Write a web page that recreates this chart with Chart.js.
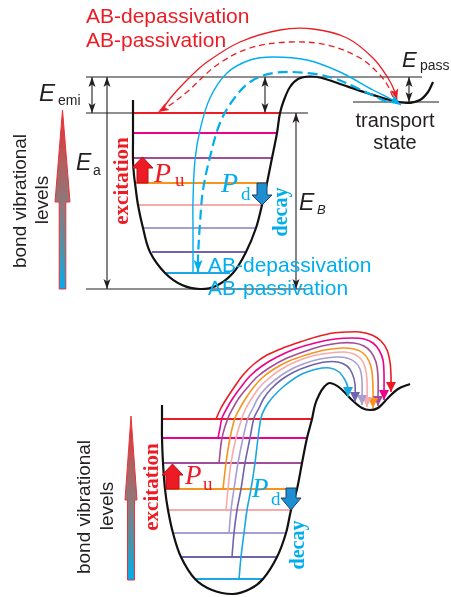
<!DOCTYPE html>
<html><head><meta charset="utf-8">
<script src="https://cdn.jsdelivr.net/npm/chart.js@4.4.1/dist/chart.umd.min.js"></script>
<style>html,body{margin:0;padding:0;background:#fff}#wrap{width:451px;height:597px}</style>
</head><body><div id="wrap"><canvas id="c" width="451" height="597"></canvas></div>
<script>
// ================= DATA (diagram coordinates) =================
const levelColors = ['#ed1c24','#ec008c','#a24d99','#f7941d','#f7abab','#a79fd2','#6e64ae','#1ba7e1'];
// upper diagram: vibrational levels
const topLevelY     = [113,133,158,183,205,228,252,273];
const topLevelLeft  = [133,133,133,135,138,143,152,165];
const topLevelRight = [280,277,272,267,261,256,247,230];
// lower diagram: vibrational levels
const botLevelY     = [419,438,463,489,510,533,557,579];
const botLevelLeft  = [162,162,163,165,168,173,182,195];
const botLevelRight = [312,307,302,297,291,286,277,263];
// potential curves
const topWellX = [133,133,133,134,135,138,143,150,165,182,200,216,233,246,256,262,267,272,277,280,284,290,298,310,322,340,367,390,407,420,428,433];
const topWellY = [100,140,160,175,183,205,228,252,273,285,289,286,273,252,228,205,183,158,133,113,100,87,79,76.5,78,84,93,100,103,100,92,82];
const botWellX = [162,162,162,163,165,168,173,181,195,212,233,250,263,277,286,291,297,302,307,312,315,319,324,330,340,352,362,370,378,388,398,410];
const botWellY = [405,419,438,463,489,510,533,557,579,590,594,589,579,557,533,510,489,463,438,419,405,395,387,383,388,400,408,410,408,398,389,384];
// reference energy lines (upper)
const refLineY  = [77,113,289,102];
const refLineX0 = [86,86,86,353];
const refLineX1 = [422,308,305,439];
// energy double arrows (upper): E_emi, E_a, middle, E_B, E_pass
const eArrowX  = [92,107,265,296,409];
const eArrowY0 = [77,77,77,113,77];
const eArrowY1 = [113,289,113,289,102];
// upper transition paths
const redSolidX  = [163,173,190,207,240,280,313,347,373,388,395,397];
const redSolidY  = [108,95,77,62,42,30,29,38,58,78,92,100];
const redDashX   = [393,388,380,360,327,290,250,217,187,170,158];
const redDashY   = [97,86,75,58,45,42,48,65,92,105,112];
const blueSolidX = [193,193,193,195,200,210,227,250,273,307,340,373,393,401];
const blueSolidY = [273,230,200,160,130,98,73,60,57,60,72,90,100,105];
const blueDashX  = [387,357,333,307,273,250,233,220,210,203,200,198,198];
const blueDashY  = [102,88,78,73,73,82,100,123,157,190,223,258,272];
// lower transition paths, one per level (red ... blue)
const arcRed     = [[216,419],[221,408],[227,398],[235,386],[243,375],[254,364],[267,355],[283,348],[300,342],[316,337],[333,333],[348,332],[360,332],[372,335],[381,341],[387,350],[390,362],[391,376],[391,392]];
const arcMagenta = [[218,438],[220,428],[222,418],[227,408],[233,398],[241,387],[250,376],[262,366],[277,357],[295,349],[315,343],[335,339],[352,338],[364,339],[373,343],[379,350],[383,360],[384,374],[384,400]];
const arcPurple  = [[219,463],[222,438],[228,418],[233,408],[239,398],[247,388],[257,377],[269,368],[285,359],[303,352],[322,346],[340,343],[354,343],[364,346],[371,352],[376,362],[378,376],[378,406]];
const arcOrange  = [[223,489],[226,463],[230,438],[235,418],[240,408],[246,398],[253,388],[262,378],[274,369],[289,361],[306,355],[325,350],[342,348],[354,349],[363,353],[369,361],[372,372],[373,388],[373,408]];
const arcPink    = [[226,510],[228,489],[231,463],[236,438],[242,418],[246,408],[252,398],[259,388],[268,379],[280,370],[295,362],[312,356],[330,353],[344,352],[354,354],[361,359],[365,367],[367,380],[367,407]];
const arcLavender= [[229,533],[231,510],[234,489],[238,463],[243,438],[248,418],[253,408],[258,398],[265,389],[275,380],[288,371],[303,364],[320,359],[336,357],[347,358],[355,362],[360,369],[362,381],[362,405]];
const arcViolet  = [[232,557],[234,533],[237,510],[241,489],[245,463],[250,438],[254,418],[259,408],[264,398],[271,389],[281,380],[294,372],[309,366],[325,362],[338,362],[347,366],[352,373],[355,384],[355,402]];
const arcBlue    = [[239,579],[241,557],[244,533],[247,510],[251,489],[255,463],[258,438],[261,418],[265,408],[272,398],[283,387],[300,375],[317,369],[330,368],[339,372],[345,380],[348,388],[348,397]];
const botArcs = [arcRed,arcMagenta,arcPurple,arcOrange,arcPink,arcLavender,arcViolet,arcBlue];

// ================= STYLE =================
const RED = '#ed1c24', CYAN = '#00aeef', INK = '#231f20';
const SANS = '"Liberation Sans", Arial, sans-serif';
const SERIF = '"Liberation Serif", "Times New Roman", serif';

const zip = (xs, ys) => xs.map((x, i) => ({x, y: ys[i]}));
const pts = a => a.map(p => ({x: p[0], y: p[1]}));
const datasets = [];
function add(data, color, width, o) {
  datasets.push(Object.assign({data, showLine: true, borderColor: color, backgroundColor: color,
    borderWidth: width, pointRadius: 0, fill: false, tension: 0}, o || {}));
}
// reference lines
refLineY.forEach((y, i) => add([{x: refLineX0[i], y}, {x: refLineX1[i], y}], INK, 1.1, {order: 9}));
// energy arrows
eArrowX.forEach((x, i) => add([{x, y: eArrowY0[i]}, {x, y: eArrowY1[i]}], INK, 1.1, {order: 8, headStart: true, headEnd: true, head: [10, 7, 0.75]}));
// levels
topLevelY.forEach((y, i) => add([{x: topLevelLeft[i], y}, {x: topLevelRight[i], y}], levelColors[i], 2, {order: 7}));
botLevelY.forEach((y, i) => add([{x: botLevelLeft[i], y}, {x: botLevelRight[i], y}], levelColors[i], 2, {order: 7}));
// wells
add(zip(topWellX, topWellY), '#111', 2.2, {order: 6, tension: 0.35});
add(zip(botWellX, botWellY), '#111', 2.2, {order: 6, tension: 0.35});
// upper transitions
add(zip(redSolidX, redSolidY), RED, 1.3, {order: 3, tension: 0.35, headEnd: true, head: [11, 8, 0.78]});
add(zip(redDashX, redDashY), RED, 1.3, {order: 3, tension: 0.35, borderDash: [6, 4], headEnd: true, head: [11, 8, 0.78]});
add(zip(blueSolidX, blueSolidY), CYAN, 1.4, {order: 3, tension: 0.35, headEnd: true, head: [12, 9, 0.78]});
add(zip(blueDashX, blueDashY), CYAN, 2.2, {order: 3, tension: 0.35, borderDash: [10, 5], headEnd: true, head: [12, 9, 0.78]});
// lower transitions
botArcs.forEach((a, i) => add(pts(a), levelColors[i], 1.6, {order: 2, tension: 0.3, headEnd: true, head: [10, 10, 1]}));

// ================= ANNOTATIONS =================
const labels = [
  {t: 'AB-depassivation', x: 86, y: 23, f: '21px ' + SANS, c: RED},
  {t: 'AB-passivation', x: 86, y: 47, f: '21px ' + SANS, c: RED},
  {t: 'AB-depassivation', x: 208, y: 272, f: '21px ' + SANS, c: CYAN},
  {t: 'AB-passivation', x: 208, y: 295, f: '21px ' + SANS, c: CYAN},
  {t: 'E', x: 39, y: 101, f: 'italic 24px ' + SANS, c: INK},
  {t: 'emi', x: 58, y: 105, f: '14px ' + SANS, c: INK},
  {t: 'E', x: 76, y: 170, f: 'italic 23px ' + SANS, c: INK},
  {t: 'a', x: 93, y: 175, f: '14px ' + SANS, c: INK},
  {t: 'E', x: 299, y: 210, f: 'italic 23px ' + SANS, c: INK},
  {t: 'B', x: 317, y: 214, f: 'italic 13px ' + SANS, c: INK},
  {t: 'E', x: 402, y: 67, f: 'italic 22px ' + SANS, c: INK},
  {t: 'pass', x: 420, y: 70, f: '14px ' + SANS, c: INK},
  {t: 'transport', x: 395, y: 127, f: '20px ' + SANS, c: INK, a: 'center'},
  {t: 'state', x: 395, y: 149, f: '20px ' + SANS, c: INK, a: 'center'},
  {t: 'P', x: 154, y: 182, f: 'italic 28px ' + SERIF, c: RED},
  {t: 'u', x: 175, y: 186, f: '19px ' + SERIF, c: RED},
  {t: 'P', x: 221, y: 192, f: 'italic 28px ' + SERIF, c: CYAN},
  {t: 'd', x: 241, y: 200, f: '19px ' + SERIF, c: CYAN},
  {t: 'P', x: 185, y: 484, f: 'italic 27px ' + SERIF, c: RED},
  {t: 'u', x: 203, y: 490, f: '19px ' + SERIF, c: RED},
  {t: 'P', x: 252, y: 497, f: 'italic 27px ' + SERIF, c: CYAN},
  {t: 'd', x: 271, y: 505, f: '19px ' + SERIF, c: CYAN},
  {t: 'excitation', x: 123, y: 181, f: 'bold 21px ' + SERIF, c: RED, r: true},
  {t: 'decay', x: 282, y: 212, f: 'bold 20px ' + SERIF, c: CYAN, r: true},
  {t: 'excitation', x: 153, y: 487, f: 'bold 21px ' + SERIF, c: RED, r: true},
  {t: 'decay', x: 299, y: 545, f: 'bold 20px ' + SERIF, c: CYAN, r: true},
  {t: 'bond vibrational', x: 21, y: 201, f: '19px ' + SANS, c: INK, r: true},
  {t: 'levels', x: 43, y: 200, f: '19px ' + SANS, c: INK, r: true},
  {t: 'bond vibrational', x: 85, y: 507, f: '19px ' + SANS, c: INK, r: true},
  {t: 'levels', x: 108, y: 506, f: '19px ' + SANS, c: INK, r: true}
];
// big gradient arrows: [centerX, tipY, headBaseY, bottomY, headHalfWidth, shaftHalfWidth]
const gradArrows = [[62.5, 110, 202, 289, 7.5, 3.3], [131, 416, 500, 580, 6, 3.5]];
// block arrows: [centerX, startY, headBaseY, tipY, headHalfWidth, shaftHalfWidth, fill, stroke]
const blockArrows = [
  [142.5, 183, 168, 157, 10.5, 5.5, RED, '#b5121b'],
  [262, 183, 195, 205, 10, 5, '#1b8fd2', '#1d3d66'],
  [172.5, 489, 475, 464, 10.5, 6.5, RED, '#b5121b'],
  [291, 488, 498, 510, 10, 5, '#1b8fd2', '#1d3d66']
];

const decor = {
  id: 'decor',
  afterDatasetsDraw(chart) {
    const {ctx, scales: {x: sx, y: sy}} = chart;
    const X = v => sx.getPixelForValue(v), Y = v => sy.getPixelForValue(v);
    function head(tx, ty, fx, fy, len, wid, notch, col) {
      const ang = Math.atan2(ty - fy, tx - fx);
      ctx.save(); ctx.translate(tx, ty); ctx.rotate(ang);
      ctx.beginPath(); ctx.moveTo(0, 0); ctx.lineTo(-len, wid / 2); ctx.lineTo(-len * notch, 0); ctx.lineTo(-len, -wid / 2); ctx.closePath();
      ctx.fillStyle = col; ctx.fill(); ctx.restore();
    }
    chart.data.datasets.forEach(d => {
      const p = d.data, n = p.length, [len, wid, notch] = d.head || [0, 0, 1];
      if (d.headEnd) head(X(p[n - 1].x), Y(p[n - 1].y), X(p[n - 2].x), Y(p[n - 2].y), len, wid, notch, d.borderColor);
      if (d.headStart) head(X(p[0].x), Y(p[0].y), X(p[1].x), Y(p[1].y), len, wid, notch, d.borderColor);
    });
    gradArrows.forEach(([cx, tip, hb, bot, hw, sw]) => {
      const g = ctx.createLinearGradient(0, Y(tip), 0, Y(bot));
      g.addColorStop(0, '#ee2b2b'); g.addColorStop(0.3, '#b06060'); g.addColorStop(0.55, '#8a7b7e');
      g.addColorStop(0.78, '#4a94a8'); g.addColorStop(1, '#00aeef');
      ctx.beginPath();
      ctx.moveTo(X(cx), Y(tip)); ctx.lineTo(X(cx + hw), Y(hb)); ctx.lineTo(X(cx + sw), Y(hb));
      ctx.lineTo(X(cx + sw), Y(bot)); ctx.lineTo(X(cx - sw), Y(bot)); ctx.lineTo(X(cx - sw), Y(hb));
      ctx.lineTo(X(cx - hw), Y(hb)); ctx.closePath();
      ctx.fillStyle = g; ctx.fill(); ctx.strokeStyle = '#e8333a'; ctx.lineWidth = 1; ctx.stroke();
    });
    blockArrows.forEach(([cx, y0, hb, tip, hw, sw, fc, sc]) => {
      ctx.beginPath();
      ctx.moveTo(X(cx - sw), Y(y0)); ctx.lineTo(X(cx - sw), Y(hb)); ctx.lineTo(X(cx - hw), Y(hb));
      ctx.lineTo(X(cx), Y(tip)); ctx.lineTo(X(cx + hw), Y(hb)); ctx.lineTo(X(cx + sw), Y(hb));
      ctx.lineTo(X(cx + sw), Y(y0)); ctx.closePath();
      ctx.fillStyle = fc; ctx.fill(); ctx.strokeStyle = sc; ctx.lineWidth = 1; ctx.stroke();
    });
    labels.forEach(l => {
      ctx.save(); ctx.font = l.f; ctx.fillStyle = l.c;
      if (l.r) {
        ctx.translate(X(l.x), Y(l.y)); ctx.rotate(-Math.PI / 2);
        ctx.textAlign = 'center'; ctx.textBaseline = 'middle'; ctx.fillText(l.t, 0, 0);
      } else {
        ctx.textAlign = l.a || 'left'; ctx.textBaseline = 'alphabetic'; ctx.fillText(l.t, X(l.x), Y(l.y));
      }
      ctx.restore();
    });
  }
};

new Chart(document.getElementById('c'), {
  type: 'scatter',
  data: {datasets},
  options: {
    responsive: false, animation: false, devicePixelRatio: 1,
    layout: {padding: 0},
    plugins: {legend: {display: false}, tooltip: {enabled: false}},
    elements: {point: {radius: 0}},
    scales: {
      x: {type: 'linear', min: 0, max: 451, display: false},
      y: {type: 'linear', min: 0, max: 597, reverse: true, display: false}
    }
  },
  plugins: [decor]
});
</script></body></html>
